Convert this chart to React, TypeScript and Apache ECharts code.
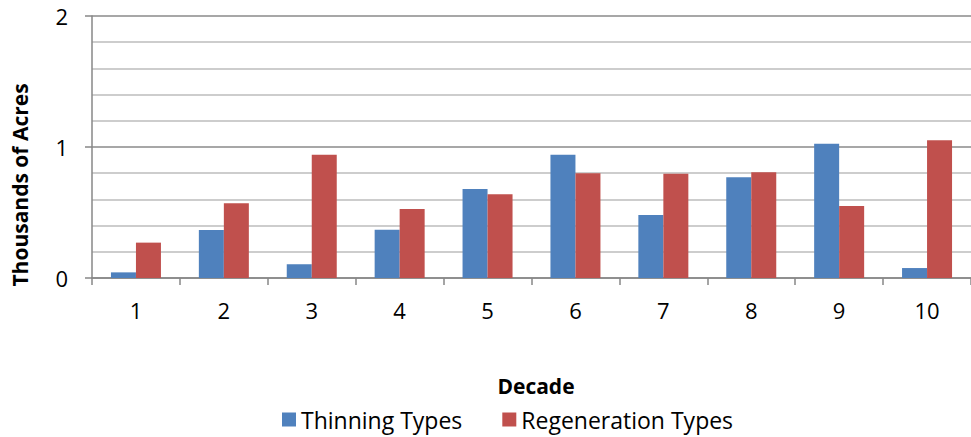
import React, { useEffect, useRef } from "react";
import * as echarts from "echarts";

const decades: string[] = ["1", "2", "3", "4", "5", "6", "7", "8", "9", "10"];
const thinningTypes: number[] = [0.043, 0.366, 0.105, 0.369, 0.68, 0.94, 0.48, 0.769, 1.025, 0.076];
const regenerationTypes: number[] = [0.27, 0.57, 0.94, 0.527, 0.64, 0.8, 0.796, 0.807, 0.55, 1.051];
const yTicks: number[] = [0, 1, 2];

const FONT = "'Open Sans', 'Noto Sans', sans-serif";

export default function App() {
  const ref = useRef<HTMLDivElement>(null);
  useEffect(() => {
    document.body.style.margin = "0";
    if (!ref.current) return;
    const chart = echarts.init(ref.current, undefined, { renderer: "svg" });
    chart.setOption({
      animation: false,
      backgroundColor: "#ffffff",
      textStyle: { fontFamily: FONT },
      grid: { left: 92, top: 16, width: 883, height: 262, containLabel: false },
      xAxis: {
        type: "category",
        data: decades,
        axisLine: { show: true, lineStyle: { color: "#878787", width: 1.5 } },
        axisTick: { show: true, length: 7, lineStyle: { color: "#878787", width: 1.5 } },
        axisLabel: { color: "#000", fontSize: 22, margin: 21, fontFamily: FONT },
        splitLine: { show: false },
      },
      yAxis: {
        type: "value",
        min: yTicks[0],
        max: yTicks[yTicks.length - 1],
        interval: 1,
        axisLine: { show: true, lineStyle: { color: "#878787", width: 1.5 } },
        axisTick: { show: true, length: 7, lineStyle: { color: "#878787", width: 1.5 } },
        axisLabel: { color: "#000", fontSize: 22, margin: 24, fontFamily: FONT },
        splitLine: { show: true, lineStyle: { color: "#8a8a8a", width: 1.5 } },
        minorTick: { show: false, splitNumber: 5 },
        minorSplitLine: { show: true, lineStyle: { color: "#bcbcbc", width: 1.5 } },
      },
      legend: {
        left: 282,
        top: 408,
        padding: 0,
        itemWidth: 14,
        itemHeight: 14,
        itemGap: 40,
        icon: "rect",
        textStyle: { color: "#000", fontSize: 23, fontFamily: FONT, lineHeight: 23 },
        data: ["Thinning Types", "Regeneration Types"],
      },
      graphic: [
        {
          type: "text",
          x: 20,
          y: 185,
          rotation: Math.PI / 2,
          style: {
            text: "Thousands of Acres",
            font: "bold 21px " + FONT,
            fill: "#000",
            align: "center",
            verticalAlign: "middle",
          },
        },
        {
          type: "text",
          x: 536,
          y: 386,
          style: {
            text: "Decade",
            font: "bold 21px " + FONT,
            fill: "#000",
            align: "center",
            verticalAlign: "middle",
          },
        },
      ],
      series: [
        {
          name: "Thinning Types",
          type: "bar",
          data: thinningTypes,
          barWidth: 25,
          barGap: "0%",
          itemStyle: { color: "#4F81BD" },
        },
        {
          name: "Regeneration Types",
          type: "bar",
          data: regenerationTypes,
          barWidth: 25,
          barGap: "0%",
          itemStyle: { color: "#C0504D" },
        },
      ],
    });
    return () => chart.dispose();
  }, []);
  return <div ref={ref} style={{ width: 971, height: 437 }} />;
}
